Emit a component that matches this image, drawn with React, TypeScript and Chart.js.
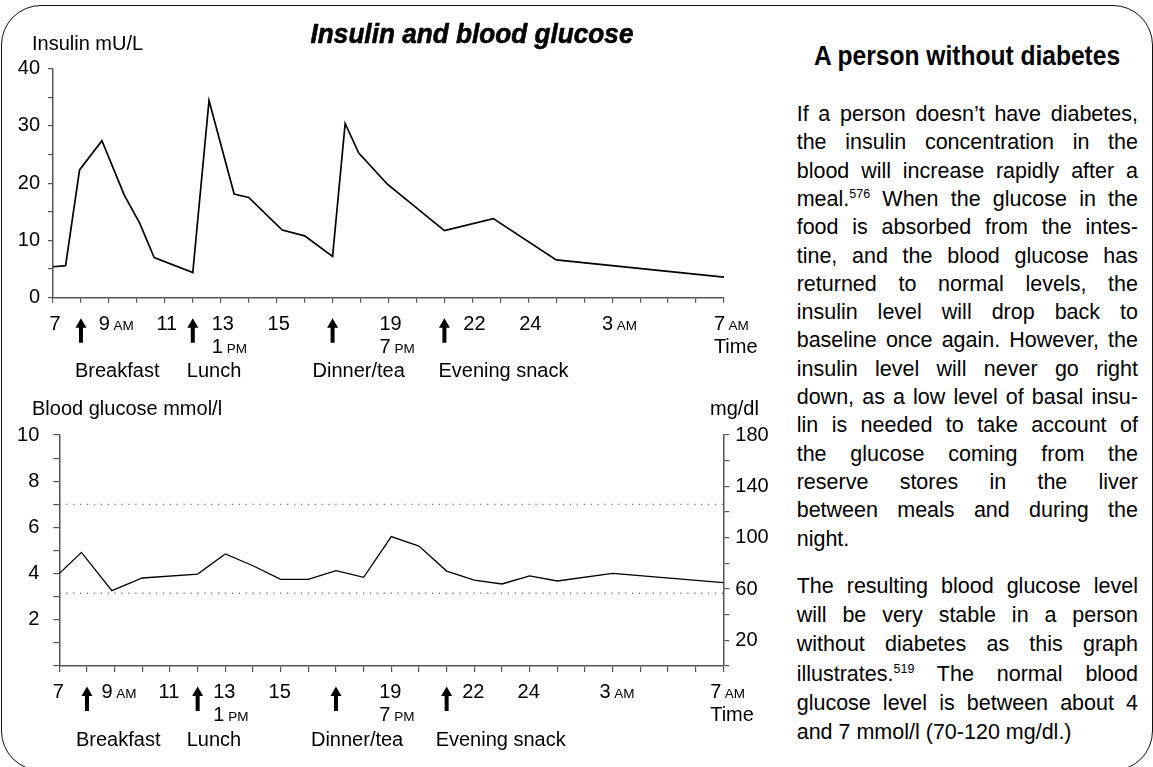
import React, { useEffect, useRef } from 'react';
import { Chart, registerables } from 'chart.js';

Chart.register(...registerables);

const FONT = "'Liberation Sans', Arial, sans-serif";

// ---- data (hour of day: 7 = 7 AM ... 31 = 7 AM next morning) ----
const insulinHours = [7, 7.45, 7.95, 8.75, 9.55, 10.1, 10.62, 12, 12.58, 13.48, 14, 15.2, 16, 17, 17.45, 17.93, 18.96, 21, 22.75, 25, 31];
const insulinValues = [5.4, 5.6, 22.3, 27.4, 17.9, 13.0, 7.0, 4.4, 34.4, 18.1, 17.5, 11.8, 10.8, 7.2, 30.4, 25.3, 19.8, 11.7, 13.8, 6.6, 3.6];

const glucoseHours = [7, 7.8, 8.9, 10, 12, 13, 14, 15, 16, 17, 18, 19, 20, 21, 22, 23, 24, 25, 27, 31];
const glucoseValues = [4.0, 4.92, 3.26, 3.81, 3.98, 4.85, 4.34, 3.75, 3.75, 4.13, 3.84, 5.6, 5.19, 4.11, 3.72, 3.55, 3.9, 3.68, 4.01, 3.61];

const rangeHours = [7, 31];
const upperLimit = 7.0;
const lowerLimit = 3.15;

const tickHours = [7, 9, 11, 13, 15, 19, 22, 24, 27, 31];
const tickMain = ['7', '9', '11', '13', '15', '19', '22', '24', '3', '7'];
const tickSuffix = ['', 'AM', '', '', '', '', '', '', 'AM', 'AM'];
const tickSub = ['', '', '', '1', '', '7', '', '', '', 'Time'];
const tickSubSuffix = ['', '', '', 'PM', '', 'PM', '', '', '', ''];

const mealHours = [8, 12, 17, 21];
const mealNames = ['Breakfast', 'Lunch', 'Dinner/tea', 'Evening snack'];

// layout-only nudges for meal captions (px)
const MEAL_NUDGE = [0, 0, -14, 0];

const para1 = [
  'If a person doesn\u2019t have diabetes,',
  'the insulin concentration in the',
  'blood will increase rapidly after a',
  'meal.^576 When the glucose in the',
  'food is absorbed from the intes-',
  'tine, and the blood glucose has',
  'returned to normal levels, the',
  'insulin level will drop back to',
  'baseline once again. However, the',
  'insulin level will never go right',
  'down, as a low level of basal insu-',
  'lin is needed to take account of',
  'the glucose coming from the',
  'reserve stores in the liver',
  'between meals and during the',
  'night.',
];
const para2 = [
  'The resulting blood glucose level',
  'will be very stable in a person',
  'without diabetes as this graph',
  'illustrates.^519 The normal blood',
  'glucose level is between about 4',
  'and 7 mmol/l (70-120 mg/dl.)',
];

const timeAxisPlugin = {
  id: 'timeAxis',
  afterDraw(chart: any, _args: any, opts: any) {
    const { ctx, chartArea } = chart;
    const xs = chart.scales.x;
    const axisY = chartArea.bottom;
    const big = `20px ${FONT}`;
    const small = `13.5px ${FONT}`;
    ctx.save();
    ctx.fillStyle = '#000';
    ctx.textBaseline = 'alphabetic';
    ctx.textAlign = 'left';
    for (let i = 0; i < tickHours.length; i++) {
      const x = xs.getPixelForValue(tickHours[i]) + (opts.labelShift || 0);
      ctx.font = big;
      const w = ctx.measureText(tickMain[i]).width;
      let left: number;
      if (tickSuffix[i]) {
        left = x + 1 - w;
        ctx.fillText(tickMain[i], left, axisY + 32);
        ctx.font = small;
        ctx.fillText(tickSuffix[i], x + 4.5, axisY + 32);
      } else {
        left = x + 2 - w / 2;
        ctx.fillText(tickMain[i], left, axisY + 32);
      }
      if (tickSub[i]) {
        ctx.font = big;
        ctx.fillText(tickSub[i], left, axisY + 55);
        if (tickSubSuffix[i]) {
          const ws = ctx.measureText(tickSub[i]).width;
          ctx.font = small;
          ctx.fillText(tickSubSuffix[i], left + ws + 4, axisY + 55);
        }
      }
    }
    for (let i = 0; i < mealHours.length; i++) {
      const x = xs.getPixelForValue(mealHours[i]);
      const tip = axisY + 20.5;
      const end = axisY + 45;
      ctx.beginPath();
      ctx.moveTo(x, tip);
      ctx.lineTo(x + 5.5, tip + 9.5);
      ctx.lineTo(x + 2, tip + 9.5);
      ctx.lineTo(x + 2, end);
      ctx.lineTo(x - 2, end);
      ctx.lineTo(x - 2, tip + 9.5);
      ctx.lineTo(x - 5.5, tip + 9.5);
      ctx.closePath();
      ctx.fill();
      ctx.font = big;
      ctx.fillText(mealNames[i], x + opts.mealShift + MEAL_NUDGE[i], axisY + 79.5);
    }
    ctx.font = big;
    if (opts.leftTitle) ctx.fillText(opts.leftTitle, 32, chartArea.top - opts.titleGap);
    if (opts.rightTitle) ctx.fillText(opts.rightTitle, opts.rightTitleX, chartArea.top - opts.titleGap);
    ctx.restore();
  },
};

function axisStyle(tickLen: number) {
  return {
    grid: { drawOnChartArea: false, drawTicks: true, tickLength: tickLen, color: '#555', lineWidth: 1.2 },
    border: { display: true, color: '#555', width: 1.5 },
  };
}

function renderLine(text: string) {
  const parts = text.split(/\^(\d+)/);
  return parts.map((p, i) =>
    i % 2 === 1 ? (
      <span key={i} style={{ fontSize: 12.5, position: 'relative', top: -8, verticalAlign: 'baseline', lineHeight: 0 }}>{p}</span>
    ) : (
      <React.Fragment key={i}>{p}</React.Fragment>
    )
  );
}

export default function App() {
  const topRef = useRef<HTMLCanvasElement>(null);
  const botRef = useRef<HTMLCanvasElement>(null);

  useEffect(() => {
    Chart.defaults.font.family = FONT;
    const topChart = new Chart(topRef.current as HTMLCanvasElement, {
      type: 'line',
      data: {
        datasets: [
          {
            data: insulinHours.map((h, i) => ({ x: h, y: insulinValues[i] })),
            borderColor: '#000',
            borderWidth: 1.7,
            pointRadius: 0,
            tension: 0,
          },
        ],
      },
      options: {
        animation: false,
        responsive: false,
        devicePixelRatio: 1,
        layout: { padding: { left: 0, top: 68.5, right: 46, bottom: 0 } },
        plugins: {
          legend: { display: false },
          tooltip: { enabled: false },
          timeAxis: { mealShift: -6, leftTitle: 'Insulin mU/L', titleGap: 18.5 },
        } as any,
        scales: {
          x: {
            type: 'linear',
            min: 7,
            max: 31,
            ticks: { display: false, stepSize: 1, autoSkip: false },
            ...axisStyle(5),
            afterFit: (s: any) => { s.height = 92.3; },
          },
          y: {
            min: 0,
            max: 40,
            ticks: {
              stepSize: 5,
              autoSkip: false,
              color: '#000',
              padding: 8,
              font: { size: 20, family: FONT },
              callback: (v: any) => (v % 10 === 0 ? String(v) : ''),
            },
            ...axisStyle(5),
            afterFit: (s: any) => { s.width = 53; },
          },
        } as any,
      },
      plugins: [timeAxisPlugin],
    } as any);

    const botChart = new Chart(botRef.current as HTMLCanvasElement, {
      type: 'line',
      data: {
        datasets: [
          {
            data: glucoseHours.map((h, i) => ({ x: h, y: glucoseValues[i] })),
            borderColor: '#000',
            borderWidth: 1.3,
            pointRadius: 0,
            tension: 0,
            yAxisID: 'y',
          },
          {
            data: rangeHours.map((h) => ({ x: h, y: upperLimit })),
            borderColor: '#777',
            borderWidth: 1.3,
            borderDash: [1.3, 5.6],
            pointRadius: 0,
            yAxisID: 'y',
          },
          {
            data: rangeHours.map((h) => ({ x: h, y: lowerLimit })),
            borderColor: '#777',
            borderWidth: 1.3,
            borderDash: [1.3, 5.6],
            pointRadius: 0,
            yAxisID: 'y',
          },
        ],
      },
      options: {
        animation: false,
        responsive: false,
        devicePixelRatio: 1,
        layout: { padding: { left: 0, top: 45, right: 0, bottom: 0 } },
        plugins: {
          legend: { display: false },
          tooltip: { enabled: false },
          timeAxis: {
            mealShift: -11,
            labelShift: -3,
            leftTitle: 'Blood glucose mmol/l',
            rightTitle: 'mg/dl',
            rightTitleX: 710,
            titleGap: 20,
          },
        } as any,
        scales: {
          x: {
            type: 'linear',
            min: 7,
            max: 31,
            ticks: { display: false, stepSize: 1, autoSkip: false },
            ...axisStyle(6),
            afterFit: (s: any) => { s.height = 101; },
          },
          y: {
            position: 'left',
            min: 0,
            max: 10,
            ticks: {
              stepSize: 1,
              autoSkip: false,
              color: '#000',
              padding: 14,
              font: { size: 20, family: FONT },
              callback: (v: any) => (v > 0 && v % 2 === 0 ? String(v) : ''),
            },
            ...axisStyle(6),
            afterFit: (s: any) => { s.width = 59.3; },
          },
          y2: {
            position: 'right',
            min: 0,
            max: 180,
            ticks: {
              stepSize: 20,
              autoSkip: false,
              color: '#000',
              padding: 6,
              font: { size: 20, family: FONT },
              callback: (v: any) => ((v - 20) % 40 === 0 ? String(v) : ''),
            },
            ...axisStyle(6),
            afterFit: (s: any) => { s.width = 46.7; },
          },
        } as any,
      },
      plugins: [timeAxisPlugin],
    } as any);

    return () => {
      topChart.destroy();
      botChart.destroy();
    };
  }, []);

  const bodyFont = 21.5;
  const lineBox = (text: string, baseline: number, last: boolean, key: string) => (
    <div
      key={key}
      style={{
        position: 'absolute',
        left: 796.7,
        width: 341.3,
        top: baseline - 21.5,
        height: 28,
        lineHeight: '28px',
        fontSize: bodyFont,
        textAlign: 'justify',
        textAlignLast: last ? 'left' : 'justify',
        color: '#000',
      } as any}
    >
      {renderLine(text)}
    </div>
  );

  return (
    <div
      style={{
        position: 'absolute',
        left: 0,
        top: 0,
        width: 1153,
        height: 767,
        overflow: 'hidden',
        background: '#fff',
        fontFamily: FONT,
      }}
    >
      <div
        style={{
          position: 'absolute',
          left: 1,
          top: 5,
          width: 1152,
          height: 766,
          border: '1.5px solid #111',
          borderRadius: 40,
          boxSizing: 'border-box',
        }}
      />
      <canvas ref={topRef} width={770} height={390} style={{ position: 'absolute', left: 0, top: 0, width: 770, height: 390 }} />
      <canvas ref={botRef} width={770} height={377} style={{ position: 'absolute', left: 0, top: 390, width: 770, height: 377 }} />
      <div
        style={{
          position: 'absolute',
          left: 471.5,
          top: 19.7,
          fontSize: 28,
          lineHeight: '28px',
          fontWeight: 'bold',
          fontStyle: 'italic',
          whiteSpace: 'nowrap',
          transform: 'translateX(-50%) scaleX(0.935)',
          WebkitTextStroke: '0.6px #000',
          color: '#000',
        } as any}
      >
        Insulin and blood glucose
      </div>
      <div
        style={{
          position: 'absolute',
          left: 966.5,
          top: 43.1,
          fontSize: 27,
          lineHeight: '27px',
          fontWeight: 'bold',
          whiteSpace: 'nowrap',
          transform: 'translateX(-50%) scaleX(0.91)',
          color: '#000',
        } as any}
      >
        A person without diabetes
      </div>
      {para1.map((t, i) => lineBox(t, 121.5 + i * 28.3, i === para1.length - 1, 'a' + i))}
      {para2.map((t, i) => lineBox(t, 593.3 + i * 29.3, i === para2.length - 1, 'b' + i))}
    </div>
  );
}
